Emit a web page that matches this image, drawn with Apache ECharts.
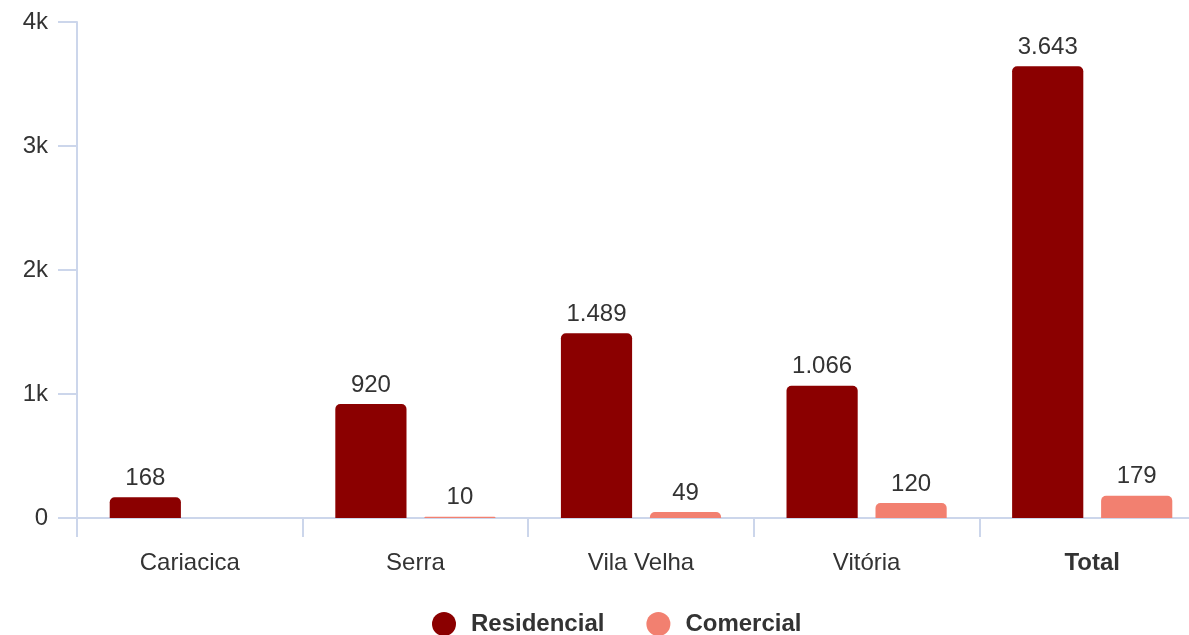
<!DOCTYPE html>
<html><head><meta charset="utf-8">
<script src="https://cdn.jsdelivr.net/npm/echarts@6/dist/echarts.min.js"></script>
<style>html,body{margin:0;padding:0;background:#fff}#c{width:1189px;height:635px}</style>
</head><body><div id="c"></div>
<script>
const categories = ['Cariacica', 'Serra', 'Vila Velha', 'Vitória', 'Total'];
const residencial = [168, 920, 1489, 1066, 3643];
const comercial = [null, 10, 49, 120, 179];
const yTicks = ['0', '1k', '2k', '3k', '4k'];

const FONT = 'Liberation Sans, Arial, sans-serif';
const fmt = v => String(v).replace(/\B(?=(\d{3})+(?!\d))/g, '.');
const chart = echarts.init(document.getElementById('c'));
const lbl = {show: true, position: 'top', distance: 7, color: '#333', fontSize: 24,
  fontFamily: FONT, formatter: p => fmt(p.value)};
chart.setOption({
  animation: false,
  grid: {left: 77, width: 1128, top: 22, bottom: 117, containLabel: false, outerBoundsMode: 'none'},
  legend: {bottom: -1, left: 432, padding: 0, itemWidth: 24, itemHeight: 24, itemGap: 42, icon: 'circle',
    textStyle: {fontSize: 24, fontWeight: 'bold', color: '#333', fontFamily: FONT, padding: [0, 0, 0, 10]},
    data: ['Residencial', 'Comercial']},
  xAxis: {type: 'category', data: categories,
    axisLine: {lineStyle: {color: '#ccd6eb', width: 2}},
    axisTick: {show: true, length: 19, lineStyle: {color: '#ccd6eb', width: 2}},
    axisLabel: {fontSize: 24, color: '#333', margin: 33, fontFamily: FONT,
      formatter: v => v === 'Total' ? '{b|' + v + '}' : v,
      rich: {b: {fontWeight: 'bold', fontSize: 24, color: '#333', fontFamily: FONT}}}},
  yAxis: {type: 'value', min: 0, max: 4000, interval: 1000,
    splitLine: {show: false},
    axisLine: {show: true, lineStyle: {color: '#ccd6eb', width: 2}},
    axisTick: {show: true, length: 19, lineStyle: {color: '#ccd6eb', width: 2}},
    axisLabel: {fontSize: 24, color: '#333', margin: 29, fontFamily: FONT,
      formatter: v => yTicks[Math.round(v / 1000)]}},
  series: [
    {name: 'Residencial', type: 'bar', data: residencial, barGap: '25%', barCategoryGap: '29%',
      itemStyle: {color: '#8b0000', borderRadius: [5, 5, 0, 0]}, label: lbl},
    {name: 'Comercial', type: 'bar', data: comercial,
      itemStyle: {color: '#f28070', borderRadius: [5, 5, 0, 0]}, label: lbl}
  ]
});
</script></body></html>
